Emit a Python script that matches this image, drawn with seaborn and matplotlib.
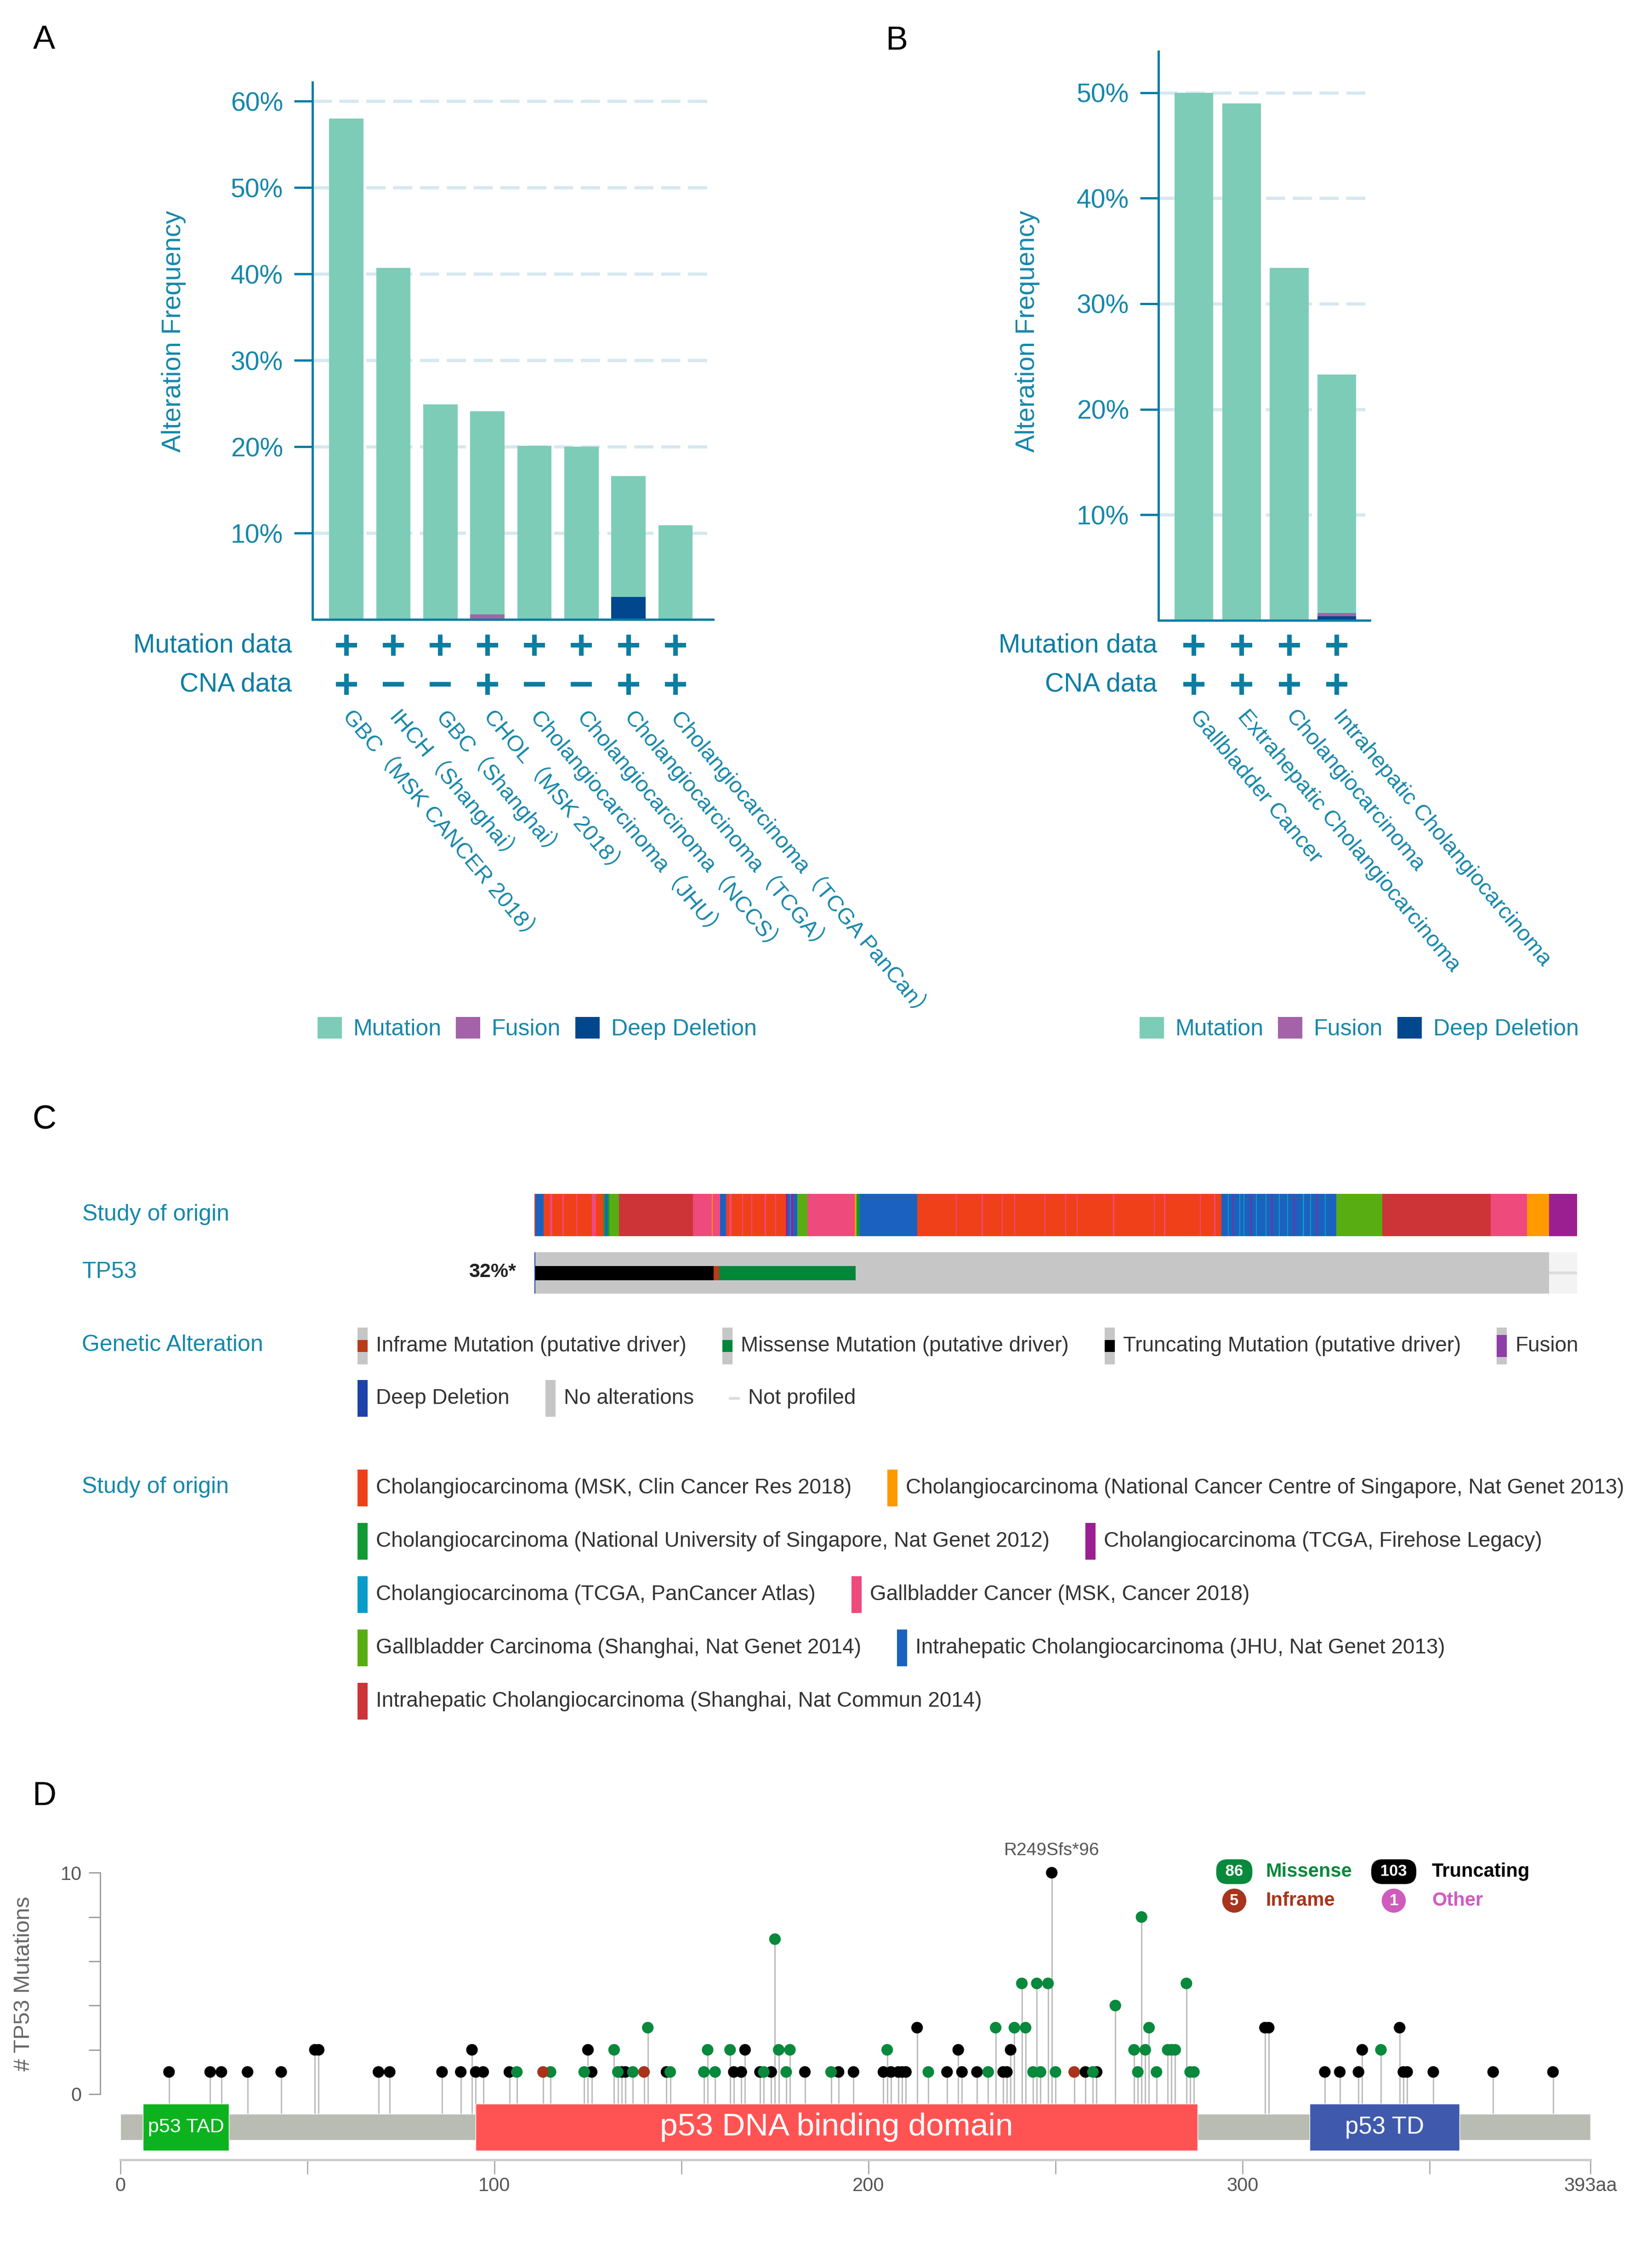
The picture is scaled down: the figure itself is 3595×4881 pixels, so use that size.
import numpy as np
import pandas as pd
import seaborn as sns
import matplotlib.pyplot as plt
import matplotlib.transforms as mtransforms
from matplotlib.patches import Patch, Rectangle

sns.set_theme(style="white")
plt.rcParams["font.family"] = ["Liberation Sans", "Noto Sans CJK SC", "DejaVu Sans"]

W, H = 3595, 4881


def fx(x):
    return x / W


def fy(y):
    return 1 - y / H


def rect(l, t, r, b):
    return [l / W, 1 - b / H, (r - l) / W, (b - t) / H]


# ---------------- data ----------------
# panel A
studies_a = ["GBC（MSK CANCER 2018）", "IHCH（Shanghai）", "GBC（Shanghai）", "CHOL（MSK 2018）",
             "Cholangiocarcinoma（JHU）", "Cholangiocarcinoma（NCCS）",
             "Cholangiocarcinoma（TCGA）", "Cholangiocarcinoma（TCGA PanCan）"]
mutation_a = [58.0, 40.7, 24.9, 23.5, 20.1, 20.0, 14.0, 10.9]
fusion_a = [0, 0, 0, 0.6, 0, 0, 0, 0]
deep_del_a = [0, 0, 0, 0, 0, 0, 2.6, 0]
mut_data_a = ["+", "+", "+", "+", "+", "+", "+", "+"]
cna_data_a = ["+", "-", "-", "+", "-", "-", "+", "+"]

# panel B
studies_b = ["Gallbladder Cancer", "Extrahepatic Cholangiocarcinoma",
             "Cholangiocarcinoma", "Intrahepatic Cholangiocarcinoma"]
mutation_b = [50.0, 49.0, 33.4, 22.6]
fusion_b = [0, 0, 0, 0.3]
deep_del_b = [0, 0, 0, 0.4]
mut_data_b = ["+", "+", "+", "+"]
cna_data_b = ["+", "+", "+", "+"]

alt_labels = ["Mutation", "Fusion", "Deep Deletion"]

# panel C : study of origin legend and sample runs (study index, number of samples)
origin_names = [
    "Cholangiocarcinoma (MSK, Clin Cancer Res 2018)",
    "Cholangiocarcinoma (National Cancer Centre of Singapore, Nat Genet 2013)",
    "Cholangiocarcinoma (National University of Singapore, Nat Genet 2012)",
    "Cholangiocarcinoma (TCGA, Firehose Legacy)",
    "Cholangiocarcinoma (TCGA, PanCancer Atlas)",
    "Gallbladder Cancer (MSK, Cancer 2018)",
    "Gallbladder Carcinoma (Shanghai, Nat Genet 2014)",
    "Intrahepatic Cholangiocarcinoma (JHU, Nat Genet 2013)",
    "Intrahepatic Cholangiocarcinoma (Shanghai, Nat Commun 2014)",
]
origin_colors = ["#f0401a", "#ff9900", "#109a34", "#9b1f91", "#0a9cc8",
                 "#ee4a7c", "#58ad12", "#1b62c0", "#cd3437"]
origin_runs = [0, 7, 0, 5, 0, 5, 0, 5, 0, 5, 0,
               2, 7, 2, 6, 8, 5, 1, 5, 7,
               0, 5, 0, 5, 0, 5, 0, 5, 0, 5, 0,
               3, 7, 4, 3, 7, 6, 5, 1, 2, 7,
               0, 5, 0, 5, 0, 5, 0, 5, 0, 5, 0, 5, 0, 5, 0, 5, 0, 5, 0, 5, 0, 5, 0, 5, 0,
               7, 4, 7, 3, 7, 4, 7, 4, 7, 3, 7, 4, 7, 4, 7, 3, 7, 4, 7, 4, 7, 3, 7, 4,
               7, 4, 7, 3, 7, 4, 7,
               6, 8, 5, 1, 3]
origin_sizes = [1, 8, 6, 2, 10, 1, 12, 1, 14, 4, 7,
                2, 2, 2, 9, 71, 18, 1, 7, 6,
                3, 2, 10, 1, 8, 1, 12, 1, 9, 1, 9,
                2, 2, 1, 2, 4, 10, 45, 2, 3, 55,
                37, 1, 24, 1, 18, 1, 11, 1, 28, 1, 19, 1, 10, 1, 34, 1, 38, 1, 9, 1, 33, 1, 13, 1, 6,
                6, 1, 4, 1, 5, 1, 3, 1, 6, 1, 4, 1, 8, 1, 5, 1, 6, 1, 7, 1, 5, 1, 8, 1,
                6, 1, 5, 1, 7, 1, 10,
                44, 104, 35, 21, 27]

tp53_status = ["deep", "trunc", "inframe", "missense", "none", "notprof"]
tp53_sizes = [1, 171, 5, 131, 665, 27]
tp53_freq = "32%*"

alt_legend = [("Inframe Mutation (putative driver)", "inframe"),
              ("Missense Mutation (putative driver)", "missense"),
              ("Truncating Mutation (putative driver)", "trunc"),
              ("Fusion", "fusion"),
              ("Deep Deletion", "deep"),
              ("No alterations", "none"),
              ("Not profiled", "notprof")]

# panel D : TP53 lollipop
trunc_pos = [13, 24, 27, 34, 43, 52, 53, 69, 72, 86, 91, 94, 95, 97, 104, 125, 126, 134, 135,
             146, 164, 166, 167, 171, 174, 183, 192, 196, 204, 206, 208, 209, 210, 213, 221,
             224, 225, 229, 236, 237, 238, 249, 258, 261, 306, 307, 322, 326, 331, 332, 342,
             343, 344, 351, 367, 383]
trunc_cnt = [1, 1, 1, 1, 1, 2, 2, 1, 1, 1, 1, 2, 1, 1, 1, 2, 1, 1, 1,
             1, 1, 1, 2, 1, 1, 1, 1, 1, 1, 1, 1, 1, 1, 3, 1,
             2, 1, 1, 1, 1, 2, 10, 1, 1, 3, 3, 1, 1, 1, 2, 3,
             1, 1, 1, 1, 1]
miss_pos = [106, 115, 124, 132, 133, 137, 141, 147, 156, 157, 159, 163, 172, 175, 176, 178,
            179, 190, 205, 216, 232, 234, 239, 241, 242, 244, 245, 246, 248, 250, 260, 266,
            271, 272, 273, 274, 275, 277, 280, 281, 282, 285, 286, 287, 337]
miss_cnt = [1, 1, 1, 2, 1, 1, 3, 1, 1, 2, 1, 2, 1, 7, 2, 1,
            2, 1, 2, 1, 1, 3, 3, 5, 3, 1, 5, 1, 5, 1, 1, 4,
            2, 1, 8, 2, 3, 1, 2, 2, 2, 5, 1, 1, 2]
infr_pos = [113, 140, 255]
infr_cnt = [1, 1, 1]
top_label = "R249Sfs*96"

protein_length = 393
domain_names = ["p53 TAD", "p53 DNA binding domain", "p53 TD"]
domain_start = [6, 95, 318]
domain_end = [29, 288, 358]

legend_types = ["Missense", "Truncating", "Inframe", "Other"]
legend_counts = [86, 103, 5, 1]

# ---------------- styles ----------------
TEAL = "#1787aa"
AX_C = "#0b7da3"
GRID_C = "#d6e8f0"
MUT_C, FUS_C, DEL_C = "#7dccb8", "#a463a8", "#00478e"
GRAY = "#c6c6c6"
ONCO = {"deep": "#1c43a8", "trunc": "#000000", "inframe": "#b83c1a", "missense": "#00873a",
        "fusion": "#8e3ea6", "none": GRAY, "notprof": "#f3f3f3"}
TYPE_C = {"Missense": "#08893c", "Truncating": "#000000", "Inframe": "#a8341c", "Other": "#cf5cbd"}

fig = plt.figure(figsize=(W / 100, H / 100), dpi=100)
renderer = fig.canvas.get_renderer()


# ---------------- panels A and B ----------------
def freq_panel(ax, names, mut, fus, dele, mut_row, cna_row, width, xlim, ymax, row_x, leg_x):
    df = pd.DataFrame({"study": names, "mut": mut, "fus": fus, "del": dele})
    df["fus_del"] = df["fus"] + df["del"]
    df["total"] = df["mut"] + df["fus_del"]
    for col, c in (("total", MUT_C), ("fus_del", FUS_C), ("del", DEL_C)):
        sns.barplot(data=df, x="study", y=col, color=c, saturation=1, width=width,
                    errorbar=None, linewidth=0, ax=ax, zorder=2)
    ax.set_xlim(*xlim)
    ax.set_ylim(0, ymax)
    ax.set_yticks(np.arange(10, ymax, 10))
    ax.yaxis.set_major_formatter(lambda v, p: f"{v:.0f}%")
    ax.yaxis.grid(True, color=GRID_C, lw=5, linestyle=(0, (6, 2.4)))
    ax.set_axisbelow(True)
    sns.despine(ax=ax)
    for s in ("left", "bottom"):
        ax.spines[s].set_color(AX_C)
        ax.spines[s].set_linewidth(3.6)
    ax.tick_params(axis="y", left=True, length=29, width=3.6, color=AX_C,
                   labelcolor=TEAL, labelsize=41, pad=17)
    ax.tick_params(axis="x", bottom=False, labelbottom=False)
    ax.set_xlabel("")
    ax.set_ylabel("")
    trans = mtransforms.blended_transform_factory(ax.transData, fig.transFigure)
    for i, (name, m, c) in enumerate(zip(names, mut_row, cna_row)):
        for sym, ypx in ((m, 1404), (c, 1489)):
            ax.plot(i, fy(ypx), marker="+" if sym == "+" else "_", ms=33, mew=7.2,
                    color=AX_C, transform=trans, clip_on=False)
        ax.text(i, fy(1552), name, transform=trans, rotation=-50, rotation_mode="anchor",
                ha="left", va="center", fontsize=35, color=TEAL)
    fig.text(fx(row_x), fy(1404), "Mutation data", ha="right", va="center", fontsize=41, color=AX_C)
    fig.text(fx(row_x), fy(1489), "CNA data", ha="right", va="center", fontsize=41, color=AX_C)
    handles = [Patch(facecolor=c, edgecolor="none") for c in (MUT_C, FUS_C, DEL_C)]
    fig.legend(handles, alt_labels, loc="center left", bbox_to_anchor=(fx(leg_x), fy(2238)),
               ncol=3, frameon=False, fontsize=36, labelcolor=TEAL, handlelength=1.06,
               handleheight=1.06, handletextpad=0.5, columnspacing=0.62, borderpad=0,
               borderaxespad=0)


ax_a = fig.add_axes(rect(680, 179, 1552, 1348))
freq_panel(ax_a, studies_a, mutation_a, fusion_a, deep_del_a, mut_data_a, cna_data_a,
           0.73, (-0.72, 7.8), 62.2, 635, 691)
fig.text(fx(378), fy(721), "Alteration Frequency", rotation=90, ha="center", va="center",
         fontsize=41, color=TEAL)

ax_b = fig.add_axes(rect(2521, 112, 2981, 1350))
freq_panel(ax_b, studies_b, mutation_b, fusion_b, deep_del_b, mut_data_b, cna_data_b,
           0.81, (-0.74, 3.69), 53.9, 2518, 2480)
fig.text(fx(2236), fy(721), "Alteration Frequency", rotation=90, ha="center", va="center",
         fontsize=41, color=TEAL)

# ---------------- panel C ----------------
ax_s = fig.add_axes(rect(1163, 2598, 3432, 2690))
n_o = np.array(origin_sizes)
x_o = np.r_[0, np.cumsum(n_o)[:-1]]
ax_s.bar(x_o, 1, width=n_o, align="edge", color=[origin_colors[c] for c in origin_runs],
         linewidth=0, antialiased=False)
ax_s.set_xlim(0, n_o.sum())
ax_s.set_ylim(0, 1)
ax_s.axis("off")

ax_t = fig.add_axes(rect(1163, 2725, 3432, 2815))
n_t = np.array(tp53_sizes)
x_t = np.r_[0, np.cumsum(n_t)[:-1]]
bg = [ONCO["deep"] if s == "deep" else (ONCO["notprof"] if s == "notprof" else GRAY)
      for s in tp53_status]
ax_t.bar(x_t, 1, width=n_t, align="edge", color=bg, linewidth=0, antialiased=False)
for s, x0, n in zip(tp53_status, x_t, n_t):
    if s in ("trunc", "inframe", "missense"):
        ax_t.bar(x0, 0.35, bottom=0.32, width=n, align="edge", color=ONCO[s], linewidth=0)
    elif s == "notprof":
        ax_t.bar(x0, 0.07, bottom=0.465, width=n, align="edge", color="#dcdcdc", linewidth=0)
ax_t.set_xlim(0, n_t.sum())
ax_t.set_ylim(0, 1)
ax_t.axis("off")

lab_kw = dict(ha="left", va="center", fontsize=36, color=TEAL)
fig.text(fx(179), fy(2643), "Study of origin", **lab_kw)
fig.text(fx(179), fy(2768), "TP53", **lab_kw)
fig.text(fx(178), fy(2927), "Genetic Alteration", **lab_kw)
fig.text(fx(178), fy(3236), "Study of origin", **lab_kw)
fig.text(fx(1123), fy(2768), tp53_freq, ha="right", va="center", fontsize=31,
         fontweight="bold", color="#222222")


def swatch(x, yc, kind=None, color=None):
    h, w = 80, 22

    def box(y0, y1, c):
        fig.add_artist(Rectangle((fx(x), fy(yc + h / 2 - y0 * h)), w / W, (y1 - y0) * h / H,
                                 transform=fig.transFigure, color=c, lw=0))

    if color is not None:
        box(0, 1, color)
    elif kind == "notprof":
        fig.add_artist(Rectangle((fx(x - 2), fy(yc + 3)), 24 / W, 6 / H,
                                 transform=fig.transFigure, color="#dddddd", lw=0))
    elif kind in ("deep", "none"):
        box(0, 1, ONCO[kind])
    else:
        box(0, 1, GRAY)
        lo, hi = (0.2, 0.8) if kind == "fusion" else (0.34, 0.66)
        box(lo, hi, ONCO[kind])


def legend_row(items, yc, x0=778, gap=78):
    x = x0
    for label, kind, color in items:
        swatch(x, yc, kind, color)
        t = fig.text(fx(x + 40), fy(yc), label, ha="left", va="center", fontsize=33,
                     color="#333333")
        x = t.get_window_extent(renderer=renderer).x1 + gap


legend_row([(l, k, None) for l, k in alt_legend[:4]], 2929)
legend_row([(l, k, None) for l, k in alt_legend[4:]], 3043)
for r, yc in enumerate([3238, 3354, 3470, 3586, 3702]):
    idx = [i for i in (2 * r, 2 * r + 1) if i < len(origin_names)]
    legend_row([(origin_names[i], None, origin_colors[i]) for i in idx], yc)

# ---------------- panel D ----------------
ax_d = fig.add_axes(rect(218, 4003, 3500, 4700))
ax_d.set_xlim(-5.4, 397.8)
ax_d.set_ylim(-2.97, 11.5)
muts = pd.DataFrame({
    "pos": trunc_pos + miss_pos + infr_pos,
    "count": trunc_cnt + miss_cnt + infr_cnt,
    "type": ["Truncating"] * len(trunc_pos) + ["Missense"] * len(miss_pos) + ["Inframe"] * len(infr_pos),
})
ax_d.vlines(muts["pos"], -0.9, muts["count"], color="#b8b8b8", lw=2, zorder=0.5)
ax_d.barh(-1.485, protein_length, left=0, height=1.19, color="#b9bcb3", zorder=1)
dom_colors = ["#0db21f", "#ff5353", "#3f5aad"]
dom_fs = [31, 50, 38]
for name, s, e, c, f in zip(domain_names, domain_start, domain_end, dom_colors, dom_fs):
    ax_d.barh(-1.495, e - s, left=s, height=2.12, color=c, zorder=2)
    ax_d.text((s + e) / 2, -1.5, name, ha="center", va="center", color="white",
              fontsize=f, zorder=3)
sns.scatterplot(data=muts, x="pos", y="count", hue="type", palette=TYPE_C, s=330,
                edgecolor="none", legend=False, ax=ax_d, zorder=4, clip_on=False)
top = muts.loc[muts["count"].idxmax()]
ax_d.text(top["pos"], top["count"] + 1.0, top_label, ha="center", va="center",
          fontsize=28, color="#555555")
ax_d.set_xlabel("")
ax_d.set_ylabel("")
for s in ("top", "right"):
    ax_d.spines[s].set_visible(False)
ax_d.spines["left"].set_bounds(0, 10)
ax_d.spines["left"].set_color("#9a9a9a")
ax_d.spines["left"].set_linewidth(2)
ax_d.spines["bottom"].set_bounds(0, protein_length)
ax_d.spines["bottom"].set_color("#cccccc")
ax_d.spines["bottom"].set_linewidth(3.6)
ax_d.set_yticks([0, 2, 4, 6, 8, 10], ["0", "", "", "", "", "10"])
xt = list(range(0, 351, 50)) + [protein_length]
ax_d.set_xticks(xt, [str(v) if v % 100 == 0 else "" for v in xt[:-1]] + [f"{protein_length}aa"])
ax_d.tick_params(axis="y", left=True, length=18, width=2, color="#9a9a9a",
                 labelcolor="#555555", labelsize=30, pad=11)
ax_d.tick_params(axis="x", bottom=True, length=22, width=2, color="#aaaaaa",
                 labelcolor="#555555", labelsize=30, pad=5)
fig.text(fx(52), fy(4317), "# TP53 Mutations", rotation=90, ha="center", va="center",
         fontsize=35, color="#666666")

badge_x, text_x, row_y = [2686, 3033], [2754, 3116], [4073, 4136]
for k, (tname, cnt) in enumerate(zip(legend_types, legend_counts)):
    col, row = k % 2, k // 2
    c = TYPE_C[tname]
    style = "round,pad=0.3,rounding_size=0.7" if cnt >= 10 else "circle,pad=0.28"
    fig.text(fx(badge_x[col]), fy(row_y[row]), f" {cnt} " if cnt >= 10 else str(cnt),
             ha="center", va="center", fontsize=25, fontweight="bold", color="white",
             bbox=dict(boxstyle=style, fc=c, ec="none"))
    fig.text(fx(text_x[col]), fy(row_y[row]), tname, ha="left", va="center", fontsize=30,
             fontweight="bold", color=c)

# panel letters
for letter, (x, y) in zip("ABCD", [(96, 88), (1951, 90), (96, 2437), (96, 3910)]):
    fig.text(fx(x), fy(y), letter, ha="center", va="center", fontsize=52, color="black")

fig.savefig("out.png", dpi=100)
